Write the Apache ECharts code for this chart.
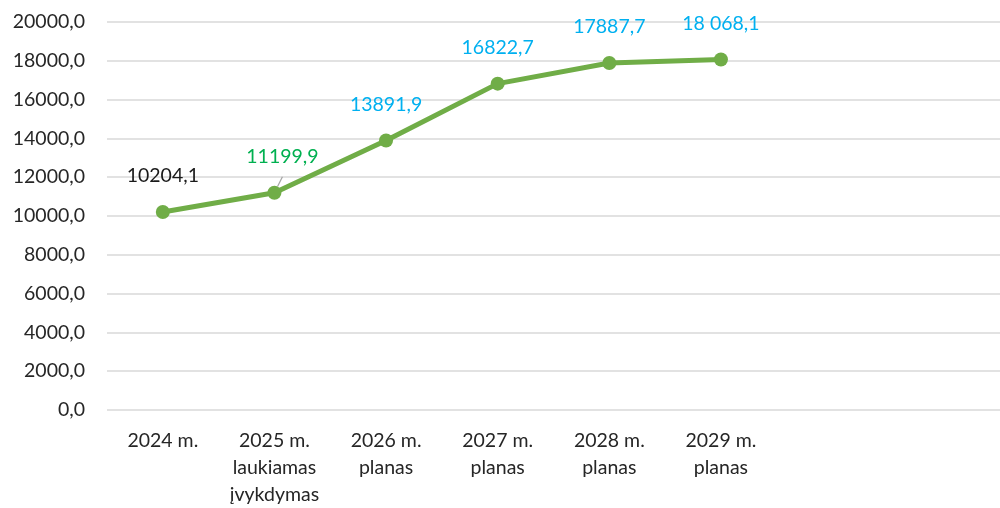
<!DOCTYPE html>
<html>
<head>
<meta charset="utf-8">
<script src="https://cdn.jsdelivr.net/npm/echarts@6/dist/echarts.min.js"></script>
<style>
  html,body{margin:0;padding:0;background:#fff;}
  #chart{width:1000px;height:508px;}
</style>
</head>
<body>
<div id="chart"></div>
<script>
// duomenys
var categories = ['2024 m.', '2025 m.\nlaukiamas\nįvykdymas', '2026 m.\nplanas', '2027 m.\nplanas', '2028 m.\nplanas', '2029 m.\nplanas', '', ''];
var values = [10204.1, 11199.9, 13891.9, 16822.7, 17887.7, 18068.1];
var valueLabels = ['10204,1', '11199,9', '13891,9', '16822,7', '17887,7', '18 068,1'];
var labelColors = ['#1a1a1a', '#00b050', '#00b0f0', '#00b0f0', '#00b0f0', '#00b0f0'];
var yTicks = [0, 2000, 4000, 6000, 8000, 10000, 12000, 14000, 16000, 18000, 20000];

var font = 'Lato';
var chart = echarts.init(document.getElementById('chart'));

var seriesData = values.map(function(v, i){
  var item = {
    value: v,
    label: {color: labelColors[i], formatter: valueLabels[i]}
  };
  if(i === 1){
    item.label.offset = [8, 0];
    item.labelLine = {show: true, lineStyle: {color: '#a6a6a6', width: 1.2}};
  }
  return item;
});

chart.setOption({
  animation: false,
  grid: {left: 107, right: -12, top: 22, bottom: 94},
  xAxis: {
    type: 'category',
    data: categories,
    boundaryGap: true,
    axisLine: {show: false},
    axisTick: {show: false},
    axisLabel: {
      interval: 0,
      margin: 17,
      fontFamily: font,
      fontSize: 19.5,
      lineHeight: 27,
      color: '#262626'
    }
  },
  yAxis: {
    type: 'value',
    min: 0,
    max: 20000,
    interval: 2000,
    axisLine: {show: false},
    axisTick: {show: false},
    splitLine: {lineStyle: {color: '#d9d9d9', width: 1.5}},
    axisLabel: {
      margin: 22,
      fontFamily: font,
      fontSize: 19.5,
      color: '#262626',
      formatter: function(v){
        return yTicks.indexOf(v) >= 0 ? v.toFixed(1).replace('.', ',') : '';
      }
    }
  },
  series: [{
    type: 'line',
    data: seriesData,
    symbol: 'circle',
    symbolSize: 14,
    lineStyle: {color: '#70ad47', width: 5},
    itemStyle: {color: '#70ad47'},
    label: {
      show: true,
      position: 'top',
      distance: 19,
      fontFamily: font,
      fontSize: 19.5
    }
  }]
});
</script>
</body>
</html>
